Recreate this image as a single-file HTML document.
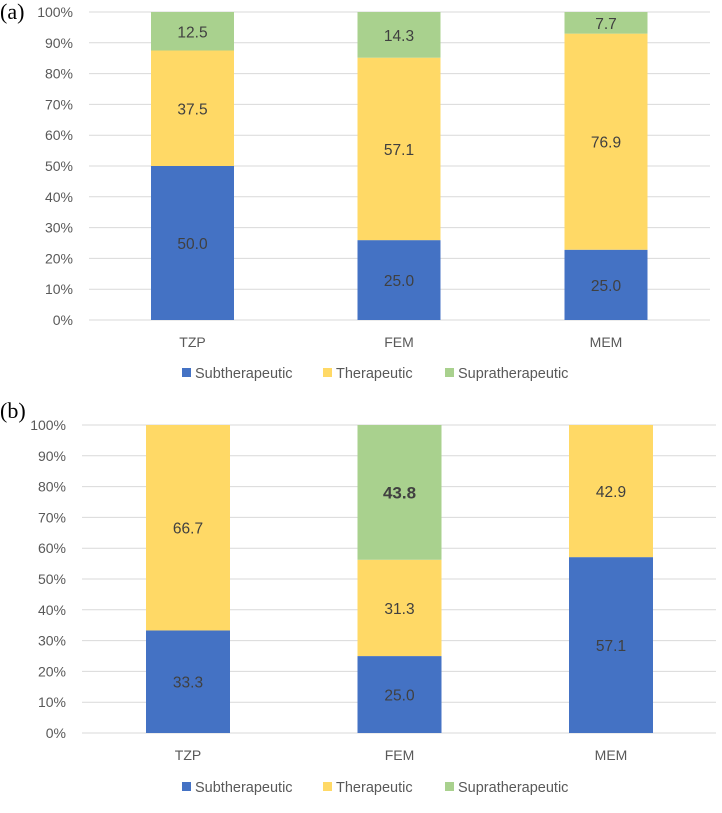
<!DOCTYPE html>
<html><head><meta charset="utf-8"><style>
body{margin:0;background:#fff;}
svg{display:block;font-family:"Liberation Sans","DejaVu Sans",sans-serif;}
</style></head>
<body>
<svg id="chart" width="722" height="813" viewBox="0 0 722 813" xmlns="http://www.w3.org/2000/svg"></svg>
<script>
const categories = ["TZP", "FEM", "MEM"];
const seriesNames = ["Subtherapeutic", "Therapeutic", "Supratherapeutic"];
const aSub = [50.0, 25.0, 25.0];
const aTher = [37.5, 57.1, 76.9];
const aSupra = [12.5, 14.3, 7.7];
const bSub = [33.3, 25.0, 57.1];
const bTher = [66.7, 31.3, 42.9];
const bSupra = [0, 43.8, 0];
const tickLabels = ["0%","10%","20%","30%","40%","50%","60%","70%","80%","90%","100%"];
const tickValues = [0,10,20,30,40,50,60,70,80,90,100];

const colors = ["#4472C4", "#FFD966", "#A9D18E"];
const NS = "http://www.w3.org/2000/svg";
const svg = document.getElementById("chart");
function mk(tag, attrs, parent, text) {
  const e = document.createElementNS(NS, tag);
  for (const k in attrs) e.setAttribute(k, attrs[k]);
  if (text !== undefined) e.textContent = text;
  (parent || svg).appendChild(e);
  return e;
}

function drawChart(panel, cfg, series, boldIdx) {
  const g = mk("g", {});
  
  
  const y = v => cfg.y0 - (v / 100) * (cfg.y0 - cfg.y100);
  const x = i => cfg.centers[i];
  const pl = mk("text", {x: 0, y: cfg.labelY, "font-family": "Liberation Serif, serif", "font-size": 22, fill: "#000"}, g, "(" + panel + ")");
  
  
  tickValues.forEach((t, i) => {
    const ln = mk("line", {x1: cfg.gx0, x2: cfg.gx1, y1: y(t), y2: y(t), stroke: "#D9D9D9", "stroke-width": 1}, g);
    
    
    const tl = mk("text", {x: cfg.gx0 - 16, y: y(t) + 5, "text-anchor": "end", "font-size": 14, fill: "#595959"}, g, tickLabels[i]);
    
    
  });
  categories.forEach((c, i) => {
    const total = series.reduce((s, arr) => s + arr[i], 0);
    let cum = 0;
    series.forEach((arr, si) => {
      const v = arr[i];
      if (v <= 0) return;
      const p0 = cum / total * 100, p1 = (cum + v) / total * 100;
      cum += v;
      const r = mk("rect", {x: x(i) - cfg.bw / 2, y: y(p1), width: cfg.bw, height: y(p0) - y(p1), fill: colors[si]}, g);
      
      
      const bold = boldIdx && boldIdx[0] === si && boldIdx[1] === i;
      const t = mk("text", {x: x(i), y: (y(p0) + y(p1)) / 2 + 6, "text-anchor": "middle", "font-size": bold ? 17 : 15.5, "font-weight": bold ? "bold" : "normal", fill: "#404040"}, g, v.toFixed(1));
      
      
    });
    const cl = mk("text", {x: x(i), y: cfg.y0 + 27, "text-anchor": "middle", "font-size": 14, fill: "#595959"}, g, c);
    
    
  });
  const lg = mk("g", {}, g);
  
  
  const lx = [182, 323, 445];
  seriesNames.forEach((n, si) => {
    const e = mk("g", {}, lg);
    
    
    mk("rect", {x: lx[si], y: cfg.legY - 5, width: 9, height: 9, fill: colors[si]}, e);
    mk("text", {x: lx[si] + 13, y: cfg.legY + 5, "font-size": 14.5, fill: "#595959"}, e, n);
  });
}

drawChart("a", {y0: 320, y100: 12, labelY: 19, gx0: 89, gx1: 710, centers: [192.5, 399, 606], bw: 83, legY: 373}, [aSub, aTher, aSupra], null);
drawChart("b", {y0: 733, y100: 425, labelY: 418, gx0: 82, gx1: 716, centers: [188, 399.5, 611], bw: 84, legY: 787}, [bSub, bTher, bSupra], [2, 1]);
</script>
</body></html>
